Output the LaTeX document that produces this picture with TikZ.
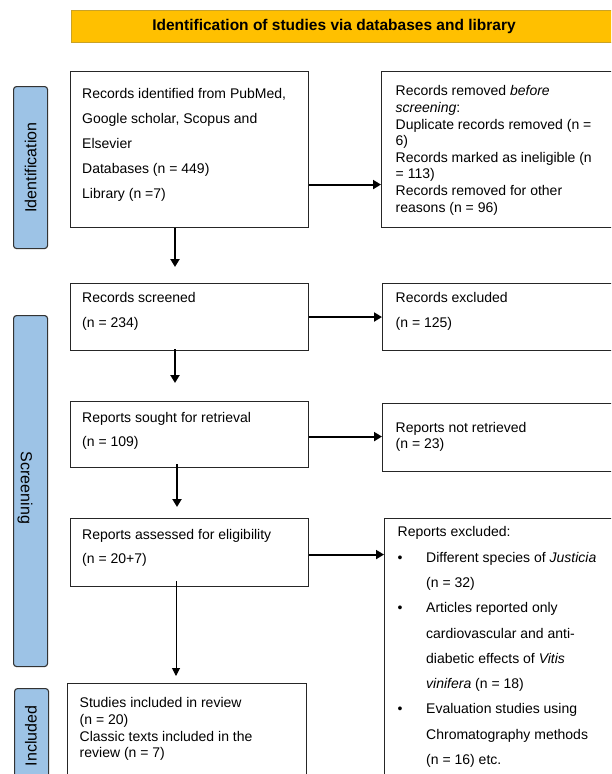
\documentclass[tikz,border=0pt]{standalone}
\usepackage{fontspec}
\setmainfont{Liberation Sans}
\usetikzlibrary{positioning, calc, arrows.meta}

\definecolor{bannergold}{HTML}{FFC000}
\definecolor{bannerline}{HTML}{C9A227}
\definecolor{sideblue}{HTML}{9DC3E6}

\newcommand{\bulitem}{\makebox[28.5pt][l]{•}}
\newcommand{\bulpad}{\hspace*{28.5pt}}

\tikzset{
  box/.style={draw=black!85, line width=1.1pt, anchor=north west, inner sep=0pt},
  sidelabel/.style={draw=black!80, fill=sideblue, line width=1.1pt, rounded corners=3pt, anchor=north west, inner sep=0pt},
  txt/.style={anchor=north west, align=left, inner sep=0pt, font=\fontsize{14}{16.6}\selectfont},
  wide/.style={font=\fontsize{14}{24.8}\selectfont},
  sidetxt/.style={inner sep=0pt, font=\fontsize{16}{18}\selectfont},
  arr/.style={-{Triangle[length=8pt,width=9pt]}, line width=2pt},
  thinarr/.style={-{Triangle[length=8pt,width=8pt]}, line width=1pt},
}

\begin{document}
\begin{tikzpicture}[x=1pt, y=-1pt]
  \useasboundingbox (0,0) rectangle (611,774);
  \clip (0,0) rectangle (611,774);
  \fill[white] (0,0) rectangle (611,774);

  % banner
  \node[draw=bannerline, fill=bannergold, line width=1pt, anchor=north west,
        minimum width=560pt, minimum height=32pt, inner sep=0pt] (banner) at (71,10) {};
  \node[inner sep=0pt, font=\bfseries\fontsize{15.5}{17}\selectfont] (banner-t) at (334,26)
    {Identification of studies via databases and library};

  % side labels
  \node[sidelabel, minimum width=34pt, minimum height=162pt] (sideid) at (13,86) {};
  \node[sidelabel, minimum width=34pt, minimum height=351pt] (sidescr) at (13,315) {};
  \node[sidelabel, minimum width=34pt, minimum height=120pt] (sideinc) at (14,688) {};
  \node[sidetxt, rotate=90] (sideid-t) at (sideid.center) {Identification};
  \node[sidetxt, rotate=-90] (sidescr-t) at (25,488) {Screening};
  \node[sidetxt, rotate=90] (sideinc-t) at (31,736) {Included};

  % boxes
  \node[box, minimum width=238pt, minimum height=156pt] (idrec) at (70,71) {};
  \node[box, minimum width=260pt, minimum height=156pt] (idrem) at (381,71) {};
  \node[box, minimum width=238pt, minimum height=67pt] (screen) at (70,283) {};
  \node[box, minimum width=260pt, minimum height=67pt] (excl) at (382,283) {};
  \node[box, minimum width=238pt, minimum height=66pt] (sought) at (70,401) {};
  \node[box, minimum width=260pt, minimum height=68pt] (notret) at (382,403) {};
  \node[box, minimum width=238pt, minimum height=68pt] (assess) at (70,518) {};
  \node[box, minimum width=260pt, minimum height=300pt] (repexcl) at (384,518) {};
  \node[box, minimum width=239pt, minimum height=120pt] (incl) at (67,683) {};

  % texts
  \node[txt, wide] (idrec-t) at (82,88.5) {Records identified from PubMed,\\Google scholar, Scopus and\\Elsevier\\Databases (n = 449)\\Library (n =7)};
  \node[txt] (idrem-t) at (395.5,85.5) {Records removed \textit{before}\\\textit{screening}:\\Duplicate records removed (n =\\6)\\Records marked as ineligible (n\\= 113)\\Records removed for other\\reasons (n = 96)};
  \node[txt, wide] (screen-t) at (82,292.5) {Records screened\\(n = 234)};
  \node[txt, wide] (excl-t) at (395.5,292.5) {Records excluded\\(n = 125)};
  \node[txt, font=\fontsize{14}{24}\selectfont] (sought-t) at (82,412.5) {Reports sought for retrieval\\(n = 109)};
  \node[txt, font=\fontsize{14}{16}\selectfont] (notret-t) at (395.5,422.5) {Reports not retrieved\\(n = 23)};
  \node[txt, font=\fontsize{14}{24}\selectfont] (assess-t) at (82,529.5) {Reports assessed for eligibility\\(n = 20+7)};
  \node[txt, font=\fontsize{14}{25.3}\selectfont] (repexcl-t) at (397.5,526.5) {Reports excluded:\\
    \bulitem Different species of \textit{Justicia}\\
    \bulpad (n = 32)\\
    \bulitem Articles reported only\\
    \bulpad cardiovascular and anti-\\
    \bulpad diabetic effects of \textit{Vitis}\\
    \bulpad \textit{vinifera} (n = 18)\\
    \bulitem Evaluation studies using\\
    \bulpad Chromatography methods\\
    \bulpad (n = 16) etc.};
  \node[txt] (incl-t) at (79.5,697.5) {Studies included in review\\(n = 20)\\Classic texts included in the\\review (n = 7)};

  % connectors
  \draw[arr] ($(idrec.east)+(0,35)$) -- ($(idrem.west)+(0,35)$);
  \draw[arr] (screen.east) -- (excl.west);
  \draw[arr] ($(sought.east)+(0,2)$) -- ($(notret.west)+(0,-1)$);
  \draw[arr] ($(assess.east)+(0,2)$) coordinate (a4) -- (repexcl.west |- a4);
  \draw[arr] ($(idrec.south west)+(105,0)$) -- ($(screen.north west)+(105,-16)$);
  \draw[arr] ($(screen.south west)+(105,-2)$) -- ($(sought.north west)+(105,-18)$);
  \draw[arr] ($(sought.south west)+(107,-4)$) -- ($(assess.north west)+(107,-11)$);
  \draw[thinarr] ($(assess.south west)+(106,-6)$) -- ($(incl.north west)+(109,-7)$);
\end{tikzpicture}
\end{document}
